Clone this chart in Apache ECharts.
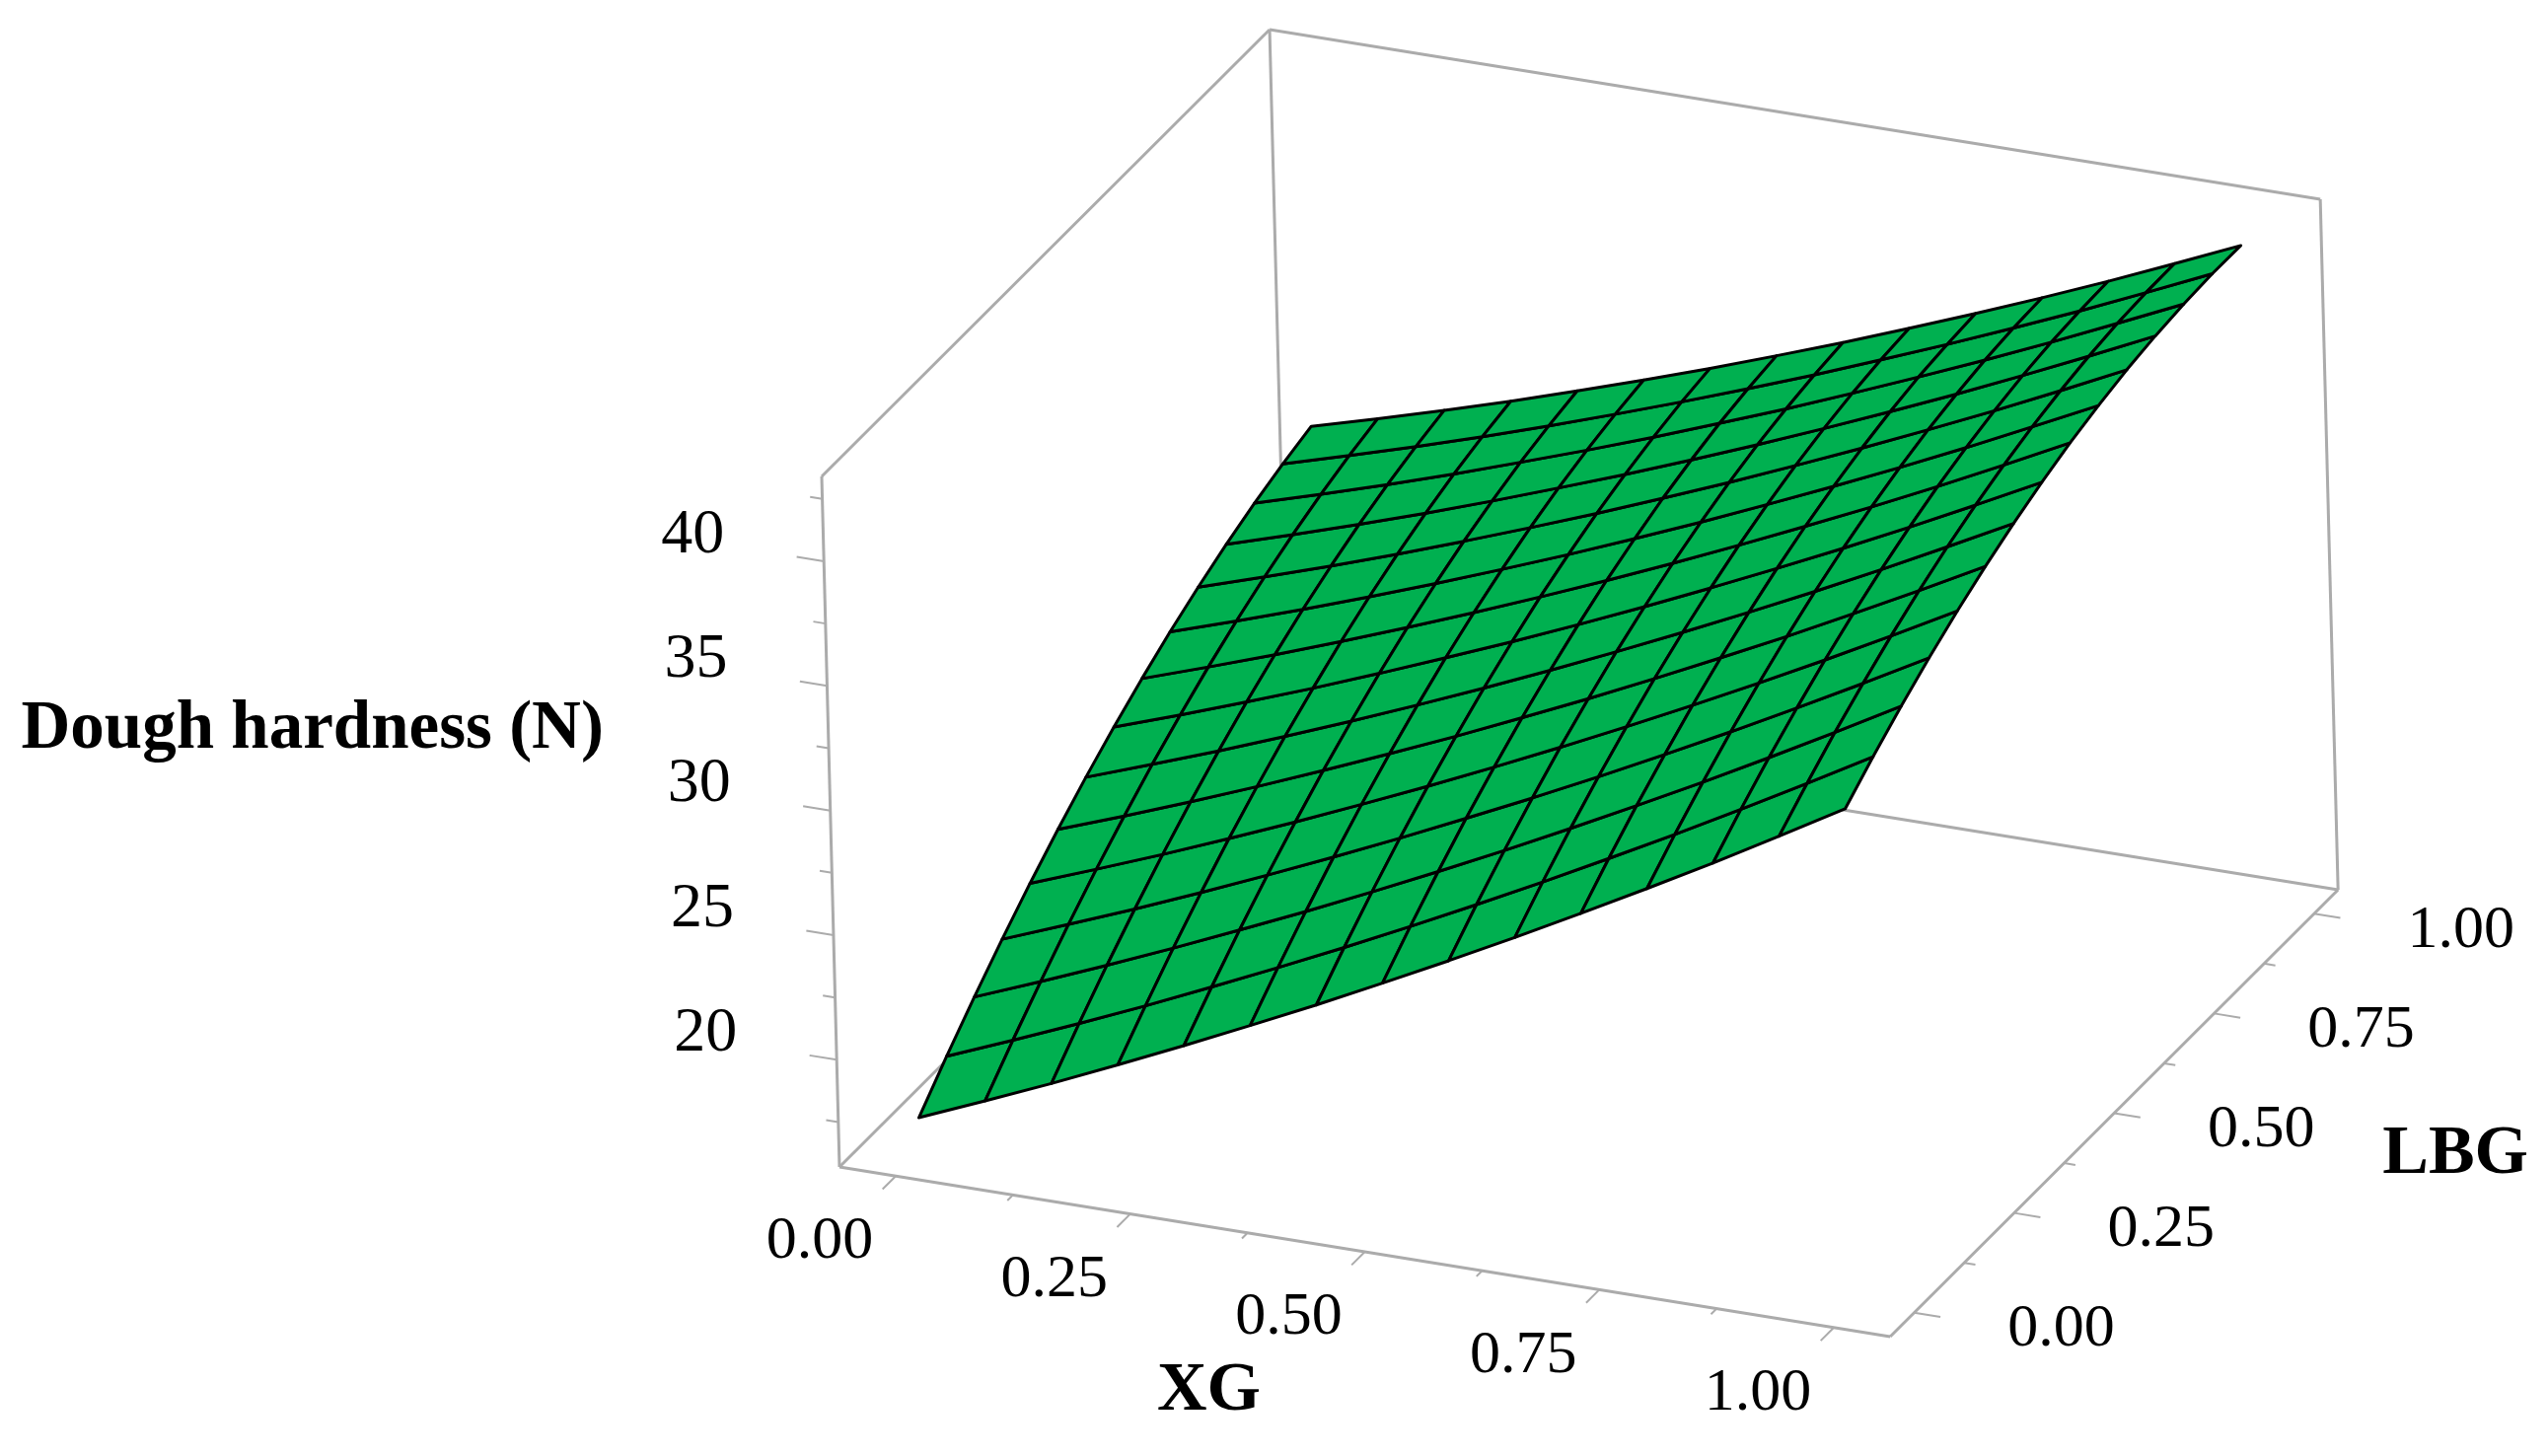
<!DOCTYPE html>
<html>
<head>
<meta charset="utf-8">
<title>Dough hardness response surface</title>
<style>html,body{margin:0;padding:0;background:#fff}#chart{width:2583px;height:1476px}</style>
<script src="https://cdn.jsdelivr.net/npm/echarts@6/dist/echarts.min.js"></script>
</head>
<body>
<div id="chart"></div>
<script>
// ---------- data ----------
const xgGrid = [0, 1/14, 2/14, 3/14, 4/14, 5/14, 6/14, 7/14, 8/14, 9/14, 10/14, 11/14, 12/14, 13/14, 1];
const lbgGrid = [0, 1/14, 2/14, 3/14, 4/14, 5/14, 6/14, 7/14, 8/14, 9/14, 10/14, 11/14, 12/14, 13/14, 1];
// one row per LBG grid value, one column per XG grid value
const hardness = [
  [17.08,18.19,19.32,20.50,21.71,22.95,24.21,25.52,26.85,28.22,29.62,31.05,32.51,34.02,35.55],
  [18.40,19.48,20.59,21.73,22.92,24.13,25.37,26.65,27.96,29.30,30.68,32.08,33.52,34.99,36.50],
  [19.64,20.69,21.78,22.90,24.06,25.24,26.46,27.71,28.99,30.31,31.66,33.03,34.45,35.90,37.38],
  [20.81,21.84,22.89,23.99,25.12,26.28,27.47,28.70,29.95,31.24,32.56,33.91,35.30,36.72,38.18],
  [21.91,22.91,23.94,25.01,26.11,27.25,28.41,29.61,30.84,32.10,33.40,34.72,36.08,37.48,38.91],
  [22.93,23.90,24.91,25.95,27.03,28.14,29.27,30.45,31.65,32.89,34.16,35.45,36.79,38.16,39.56],
  [23.88,24.83,25.80,26.82,27.87,28.95,30.06,31.21,32.39,33.60,34.84,36.11,37.42,38.77,40.14],
  [24.75,25.67,26.63,27.61,28.64,29.70,30.78,31.90,33.05,34.24,35.46,36.70,37.98,39.30,40.65],
  [25.55,26.45,27.37,28.34,29.34,30.37,31.43,32.52,33.65,34.81,36.00,37.21,38.47,39.76,41.09],
  [26.28,27.15,28.05,28.99,29.96,30.96,31.99,33.06,34.16,35.30,36.46,37.65,38.88,40.15,41.44],
  [26.93,27.78,28.65,29.56,30.51,31.49,32.49,33.54,34.61,35.72,36.85,38.02,39.22,40.46,41.73],
  [27.51,28.33,29.18,30.06,30.98,31.94,32.91,33.93,34.98,36.06,37.17,38.31,39.49,40.70,41.94],
  [28.02,28.81,29.63,30.49,31.39,32.31,33.26,34.26,35.27,36.33,37.42,38.53,39.68,40.87,42.08],
  [28.45,29.22,30.01,30.84,31.71,32.61,33.54,34.50,35.49,36.53,37.58,38.67,39.79,40.96,42.15],
  [28.81,29.55,30.32,31.12,31.97,32.84,33.74,34.68,35.64,36.65,37.68,38.74,39.84,40.98,42.14]
];
const xgRange = [-0.06, 1.06];
const lbgRange = [-0.06, 1.06];
const hardnessRange = [15.7, 43.4];
const xgTicks = [0, 0.125, 0.25, 0.375, 0.5, 0.625, 0.75, 0.875, 1];
const lbgTicks = [0, 0.125, 0.25, 0.375, 0.5, 0.625, 0.75, 0.875, 1];
const hardnessTicks = [17.5, 20, 22.5, 25, 27.5, 30, 32.5, 35, 37.5, 40, 42.5];
const xgLabels = ['0.00', '0.25', '0.50', '0.75', '1.00'];
const lbgLabels = ['0.00', '0.25', '0.50', '0.75', '1.00'];
const hardnessLabels = ['20', '25', '30', '35', '40'];
const xgTitle = 'XG';
const lbgTitle = 'LBG';
const hardnessTitle = 'Dough hardness (N)';

// ---------- parallel (axonometric) projection of the 3-D box ----------
const view = {
  origin: [851, 1183],
  xgUnit: [951, 153.6],
  lbgUnit: [405.4, -404.5],
  zUnit: [-0.65, -25.27]
};
function project(xg, lbg, z) {
  const a = xg - xgRange[0], b = lbg - lbgRange[0], c = z - hardnessRange[0];
  return [
    view.origin[0] + a * view.xgUnit[0] + b * view.lbgUnit[0] + c * view.zUnit[0],
    view.origin[1] + a * view.xgUnit[1] + b * view.lbgUnit[1] + c * view.zUnit[1]
  ];
}

const GREY = '#ababab';
const SERIF = '"Liberation Serif","Times New Roman",serif';
const [x0, x1] = xgRange, [l0, l1] = lbgRange, [z0, z1] = hardnessRange;

// box edges: floor, three back verticals, two top edges
const boxEdges = [
  [[x0,l0,z0],[x1,l0,z0]], [[x1,l0,z0],[x1,l1,z0]], [[x1,l1,z0],[x0,l1,z0]], [[x0,l1,z0],[x0,l0,z0]],
  [[x0,l0,z0],[x0,l0,z1]], [[x0,l1,z0],[x0,l1,z1]], [[x1,l1,z0],[x1,l1,z1]],
  [[x0,l0,z1],[x0,l1,z1]], [[x0,l1,z1],[x1,l1,z1]]
];

// tick marks point away from the box along the other floor axis
const tickEdges = [];
xgTicks.forEach((t, i) => {
  const len = i % 2 === 0 ? 0.033 : 0.014;
  tickEdges.push([[t, l0, z0], [t, l0 - len, z0]]);
});
lbgTicks.forEach((t, i) => {
  const len = i % 2 === 0 ? 0.028 : 0.012;
  tickEdges.push([[x1, t, z0], [x1 + len, t, z0]]);
});
hardnessTicks.forEach((t, i) => {
  const len = i % 2 === 1 ? 0.029 : 0.013;
  tickEdges.push([[x0, l0, t], [x0 - len, l0, t]]);
});

const cells = [];
for (let j = 0; j < lbgGrid.length - 1; j++) {
  for (let i = 0; i < xgGrid.length - 1; i++) cells.push([i, j]);
}

// text items: 3-D anchor plus a screen offset
const texts = [];
xgLabels.forEach(s => texts.push({ text: s, at: [parseFloat(s), l0, z0], off: [-77, 67], size: 62, bold: false }));
lbgLabels.forEach(s => texts.push({ text: s, at: [x1, parseFloat(s), z0], off: [149, 17], size: 62, bold: false }));
hardnessLabels.forEach(s => texts.push({ text: s, at: [x0, l0, parseFloat(s)], off: [-133, -26], size: 64, bold: false }));
texts.push({ text: xgTitle, at: [0.5, l0, z0], off: [-158, 142], size: 70, bold: true });
texts.push({ text: lbgTitle, at: [x1, 0.5, z0], off: [346, 42], size: 70, bold: true });
texts.push({ text: hardnessTitle, at: [x0, l0, 30], off: [-525, -81], size: 69, bold: true });

function segmentItem(params, api, edges) {
  const e = edges[params.dataIndex];
  const a = api.coord(project(e[0][0], e[0][1], e[0][2]));
  const b = api.coord(project(e[1][0], e[1][1], e[1][2]));
  return { type: 'line', shape: { x1: a[0], y1: a[1], x2: b[0], y2: b[1] },
           style: { stroke: GREY, lineWidth: api.value(1) }, silent: true };
}

const chart = echarts.init(document.getElementById('chart'));
chart.setOption({
  animation: false,
  backgroundColor: '#ffffff',
  tooltip: { show: false },
  grid: { left: 0, right: 0, top: 0, bottom: 0 },
  xAxis: { type: 'value', min: 0, max: 2583, show: false },
  yAxis: { type: 'value', min: 0, max: 1476, inverse: true, show: false },
  series: [
    { type: 'custom', name: 'box', coordinateSystem: 'cartesian2d', silent: true, z: 1, clip: false,
      data: boxEdges.map((e, i) => [i, 3]),
      renderItem: (p, api) => segmentItem(p, api, boxEdges) },
    { type: 'custom', name: 'ticks', coordinateSystem: 'cartesian2d', silent: true, z: 1, clip: false,
      data: tickEdges.map((e, i) => [i, 2]),
      renderItem: (p, api) => segmentItem(p, api, tickEdges) },
    { type: 'custom', name: 'Dough hardness (N)', coordinateSystem: 'cartesian2d', silent: true, z: 2, clip: false,
      data: cells,
      renderItem: (params, api) => {
        const i = api.value(0), j = api.value(1);
        const corners = [[i, j], [i + 1, j], [i + 1, j + 1], [i, j + 1]];
        const pts = corners.map(c => api.coord(project(xgGrid[c[0]], lbgGrid[c[1]], hardness[c[1]][c[0]])));
        return { type: 'polygon', shape: { points: pts },
                 style: { fill: '#00B050', stroke: '#000000', lineWidth: 3, lineJoin: 'round' }, silent: true };
      } },
    { type: 'custom', name: 'labels', coordinateSystem: 'cartesian2d', silent: true, z: 3, clip: false,
      data: texts.map((t, i) => [i]),
      renderItem: (params, api) => {
        const t = texts[params.dataIndex];
        const c = api.coord(project(t.at[0], t.at[1], t.at[2]));
        return { type: 'text', x: c[0] + t.off[0], y: c[1] + t.off[1], silent: true,
                 style: { text: t.text, fill: '#000000', align: 'center', verticalAlign: 'middle',
                          font: (t.bold ? 'bold ' : '') + t.size + 'px ' + SERIF } };
      } }
  ]
});
</script>
</body>
</html>
